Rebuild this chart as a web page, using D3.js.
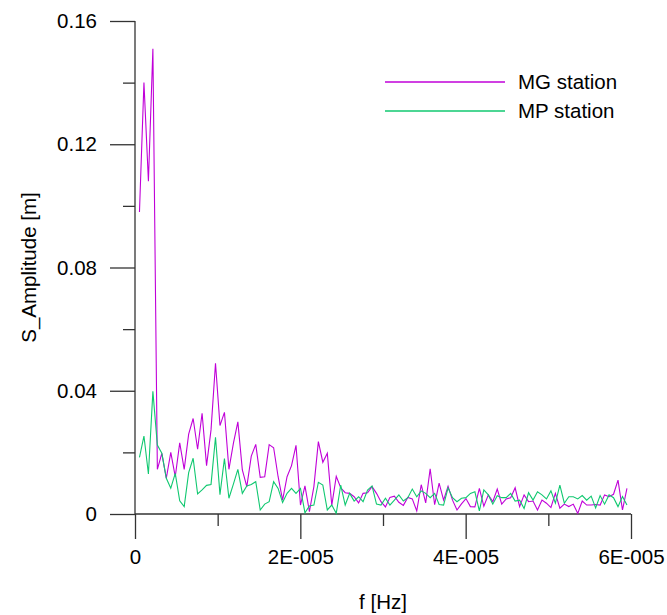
<!DOCTYPE html>
<html>
<head>
<meta charset="utf-8">
<script src="https://cdn.jsdelivr.net/npm/d3@7"></script>
<style>
  html, body { margin: 0; padding: 0; background: #fff; }
  svg { display: block; }
  text { font-family: "Liberation Sans", Arial, sans-serif; fill: #000; }
</style>
</head>
<body>
<svg id="chart" width="667" height="615"></svg>
<script>
// Spectral amplitude at two stations, one value per frequency bin
const freqStep = 5.41e-7; // Hz between spectral bins (first bin at 1 * freqStep)

const mgStation = [
  0.098, 0.140, 0.108, 0.151, 0.0145, 0.0197, 0.0116, 0.0200, 0.0121, 0.0231,
  0.0145, 0.0259, 0.0310, 0.0210, 0.0327, 0.0157, 0.0273, 0.0489, 0.0287, 0.0330,
  0.0145, 0.0229, 0.0299, 0.0143, 0.0089, 0.0188, 0.0226, 0.0119, 0.0121, 0.0225,
  0.0215, 0.0121, 0.0045, 0.0121, 0.0157, 0.0223, 0.0029, 0.0091, 0.0008, 0.0089,
  0.0235, 0.0168, 0.0197, 0.0028, 0.0122, 0.0085, 0.0069, 0.0067, 0.0056, 0.0036,
  0.0067, 0.0069, 0.0089, 0.0067, 0.0040, 0.0023, 0.0054, 0.0058, 0.0038, 0.0028,
  0.0054, 0.0049, 0.0010, 0.0095, 0.0036, 0.0147, 0.0030, 0.0100, 0.0045, 0.0090,
  0.0045, 0.0013, 0.0033, 0.0050, 0.0024, 0.0023, 0.0083, 0.0025, 0.0062, 0.0040,
  0.0081, 0.0032, 0.0049, 0.0053, 0.0085, 0.0024, 0.0062, 0.0040, 0.0042, 0.0013,
  0.0045, 0.0035, 0.0021, 0.0067, 0.0019, 0.0032, 0.0024, 0.0032, 0.0002, 0.0042,
  0.0029, 0.0029, 0.0031, 0.0029, 0.0062, 0.0056, 0.0064, 0.0110, 0.0013, 0.0083
];

const mpStation = [
  0.0184, 0.0253, 0.0130, 0.0398, 0.0224, 0.0197, 0.0116, 0.0084, 0.0132, 0.0043,
  0.0024, 0.0134, 0.0181, 0.0065, 0.0078, 0.0093, 0.0096, 0.0249, 0.0063, 0.0180,
  0.0051, 0.0097, 0.0145, 0.0067, 0.0091, 0.0096, 0.0105, 0.0013, 0.0032, 0.0040,
  0.0105, 0.0083, 0.0037, 0.0067, 0.0083, 0.0067, 0.0083, 0.0004, 0.0026, 0.0029,
  0.0103, 0.0094, 0.0013, 0.0029, 0.0002, 0.0094, 0.0029, 0.0067, 0.0042, 0.0056,
  0.0040, 0.0078, 0.0091, 0.0032, 0.0029, 0.0051, 0.0029, 0.0045, 0.0062, 0.0042,
  0.0053, 0.0081, 0.0056, 0.0075, 0.0067, 0.0053, 0.0067, 0.0031, 0.0029, 0.0085,
  0.0053, 0.0040, 0.0051, 0.0053, 0.0067, 0.0072, 0.0010, 0.0078, 0.0062, 0.0032,
  0.0059, 0.0053, 0.0053, 0.0067, 0.0042, 0.0045, 0.0018, 0.0069, 0.0045, 0.0072,
  0.0062, 0.0049, 0.0075, 0.0035, 0.0094, 0.0035, 0.0056, 0.0056, 0.0049, 0.0060,
  0.0045, 0.0058, 0.0020, 0.0060, 0.0032, 0.0062, 0.0053, 0.0024, 0.0057, 0.0029
];

const seriesNames = ["MG station", "MP station"];
const seriesColors = ["#c000d8", "#10c870"];

const xMajorTicks = [0, 2e-5, 4e-5, 6e-5];
const xTickLabels = ["0", "2E-005", "4E-005", "6E-005"];
const xMinorTicks = [1e-5, 3e-5, 5e-5];
const yMajorTicks = [0, 0.04, 0.08, 0.12, 0.16];
const yTickLabels = ["0", "0.04", "0.08", "0.12", "0.16"];
const yMinorTicks = [0.02, 0.06, 0.10, 0.14];

const svg = d3.select("#chart");
const plotLeft = 135, plotRight = 631, plotTop = 21, plotBottom = 514;

const x = d3.scaleLinear().domain([0, 6e-5]).range([plotLeft, plotRight]);
const y = d3.scaleLinear().domain([0, 0.16]).range([plotBottom, plotTop]);

const axisColor = "#333";
const fontSize = 20.5;

// y axis: long major ticks, short minor ticks, both pointing left
const yAxis = svg.append("g").attr("class", "axis").attr("transform", `translate(${plotLeft},0)`);
yAxis.call(d3.axisLeft(y).tickValues(yMajorTicks).tickSize(25).tickPadding(13)
  .tickFormat((d, i) => yTickLabels[i]));
yAxis.call(g => g.select(".domain").remove());
yAxis.append("g").call(d3.axisLeft(y).tickValues(yMinorTicks).tickSize(12).tickFormat(""))
  .call(g => g.select(".domain").remove());
yAxis.append("line").attr("x1", 0).attr("x2", 0).attr("y1", plotTop).attr("y2", plotBottom);

// x axis: ticks pointing down
const xAxis = svg.append("g").attr("class", "axis").attr("transform", `translate(0,${plotBottom})`);
xAxis.call(d3.axisBottom(x).tickValues(xMajorTicks).tickSize(25).tickPadding(10)
  .tickFormat((d, i) => xTickLabels[i]));
xAxis.call(g => g.select(".domain").remove());
xAxis.append("g").call(d3.axisBottom(x).tickValues(xMinorTicks).tickSize(12).tickFormat(""))
  .call(g => g.select(".domain").remove());
xAxis.append("line").attr("x1", plotLeft).attr("x2", plotRight).attr("y1", 0).attr("y2", 0);

svg.selectAll(".axis line").attr("stroke", axisColor).attr("stroke-width", 1.3);
svg.selectAll(".tick text").attr("font-size", fontSize).attr("font-family", "Liberation Sans, Arial, sans-serif").attr("fill", "#000");

// axis titles
svg.append("text")
  .attr("x", (plotLeft + plotRight) / 2).attr("y", 609)
  .attr("text-anchor", "middle").attr("font-size", fontSize)
  .text("f [Hz]");
svg.append("text")
  .attr("transform", `translate(36,${(plotTop + plotBottom) / 2}) rotate(-90)`)
  .attr("text-anchor", "middle").attr("font-size", fontSize)
  .text("S_Amplitude [m]");

// spectra
const line = d3.line()
  .x((d, i) => x((i + 1) * freqStep))
  .y(d => y(d));

[mgStation, mpStation].forEach((vals, k) => {
  svg.append("path")
    .datum(vals)
    .attr("fill", "none")
    .attr("stroke", seriesColors[k])
    .attr("stroke-width", 1.1)
    .attr("stroke-linejoin", "miter")
    .attr("d", line);
});

// legend
const legend = svg.append("g");
seriesNames.forEach((name, k) => {
  const ly = 82 + k * 29;
  legend.append("path")
    .attr("d", `M385,${ly}H505`)
    .attr("fill", "none")
    .attr("stroke", seriesColors[k]).attr("stroke-width", 1.6);
  legend.append("text")
    .attr("x", 518).attr("y", ly + 7)
    .attr("font-size", fontSize)
    .text(name);
});
</script>
</body>
</html>
